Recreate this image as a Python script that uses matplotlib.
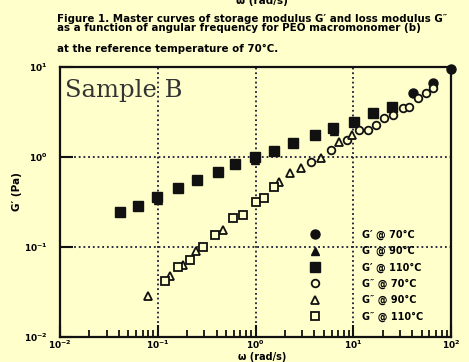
import matplotlib
matplotlib.use('Agg')
import matplotlib.pyplot as plt
import matplotlib.ticker as mticker

plt.rcParams['font.family'] = 'DejaVu Sans'
plt.rcParams['mathtext.default'] = 'bf'

# ── Data ──────────────────────────────────────────────────────────────────────
freq_gp_110 = [0.041, 0.063, 0.098, 0.161, 0.252, 0.41, 0.62, 0.98, 1.54, 2.44,
               4.03, 6.27, 10.2, 16.1, 25.2]
gp_110 = [0.247, 0.286, 0.362, 0.449, 0.555, 0.681, 0.83, 1.0, 1.16, 1.42,
          1.75, 2.08, 2.47, 3.06, 3.62]

freq_gp_90 = [0.1, 0.98, 6.3]
gp_90 = [0.33, 0.93, 1.95]

freq_gp_70 = [40.4, 64.9, 99.0]
gp_70 = [5.1, 6.6, 9.6]

freq_gpp_110 = [0.119, 0.162, 0.215, 0.293, 0.389, 0.594, 0.753, 1.0, 1.21, 1.53]
gpp_110 = [0.0414, 0.0607, 0.0717, 0.100, 0.136, 0.210, 0.227, 0.316, 0.350, 0.464]

freq_gpp_90 = [0.080, 0.134, 0.183, 0.248, 0.47, 1.72, 2.28, 2.9, 4.64, 7.1, 9.66]
gpp_90 = [0.0282, 0.0476, 0.063, 0.090, 0.155, 0.528, 0.664, 0.755, 0.975, 1.47, 1.76]

freq_gpp_70 = [3.66, 5.87, 8.58, 11.4, 14.1, 17.0, 20.6, 25.4, 32.2, 37.1, 45.9, 55.5, 65.3]
gpp_70 = [0.88, 1.2, 1.55, 2.0, 2.0, 2.27, 2.71, 2.93, 3.5, 3.59, 4.53, 5.14, 5.84]

labels = ["G′ @ 70°C", "G′ @ 90°C", "G′ @ 110°C",
          "G″ @ 70°C", "G″ @ 90°C", "G″ @ 110°C"]

BG = '#FFFFCC'
INK = '#111111'

# ── Figure ────────────────────────────────────────────────────────────────────
fig = plt.figure(figsize=(4.69, 3.62), dpi=100, facecolor=BG)
ax = fig.add_axes([60 / 469, 25 / 362, 391 / 469, 270 / 362], facecolor=BG)

h1, = ax.plot(freq_gp_70, gp_70, 'o', color=INK, ms=6.5, clip_on=False, zorder=4)
h2, = ax.plot(freq_gp_90, gp_90, '^', color=INK, ms=5.5, zorder=3)
h3, = ax.plot(freq_gp_110, gp_110, 's', color=INK, ms=7, zorder=4)
h4, = ax.plot(freq_gpp_70, gpp_70, 'o', mfc=BG, mec=INK, mew=1.3, ms=5.5, zorder=4)
h5, = ax.plot(freq_gpp_90, gpp_90, '^', mfc=BG, mec=INK, mew=1.3, ms=5.5, zorder=4)
h6, = ax.plot(freq_gpp_110, gpp_110, 's', mfc=BG, mec=INK, mew=1.3, ms=5.5, zorder=4)

ax.set_xscale('log')
ax.set_yscale('log')
ax.set_xlim(0.01, 100)
ax.set_ylim(0.01, 10)

ax.xaxis.set_major_locator(mticker.LogLocator(base=10, numticks=10))
ax.xaxis.set_minor_locator(mticker.LogLocator(base=10, subs=range(2, 10), numticks=10))
ax.yaxis.set_major_locator(mticker.LogLocator(base=10, numticks=10))
ax.yaxis.set_minor_locator(mticker.NullLocator())

ax.grid(True, which='major', linestyle=(0, (1, 1.6)), linewidth=1.3, color='#1a1a3a')
ax.tick_params(which='major', direction='in', length=9, width=1.5, color=INK,
               labelsize=6.5)
ax.tick_params(which='minor', direction='in', length=5, width=1.3, color=INK)
ax.tick_params(axis='y', pad=9)
ax.tick_params(axis='x', pad=1.5)
for lab in ax.get_xticklabels() + ax.get_yticklabels():
    lab.set_fontweight('bold')
for sp in ax.spines.values():
    sp.set_linewidth(1.6)
    sp.set_color(INK)

ax.text(0.014, 0.955, 'Sample B', transform=ax.transAxes, family='DejaVu Serif',
        fontsize=17.5, color='#333333', ha='left', va='top', zorder=2)

ax.legend([h1, h2, h3, h4, h5, h6], labels, loc='upper left',
          bbox_to_anchor=(0.627, 0.398), frameon=False, numpoints=1,
          prop={'size': 7, 'weight': 'bold'}, handlelength=2.0,
          handletextpad=3.8, labelspacing=0.62, borderpad=0, borderaxespad=0)

# ── Labels & caption ──────────────────────────────────────────────────────────
fig.text(17 / 469, 1 - 192 / 362, "G′ (Pa)", fontsize=7.5, fontweight='bold',
         rotation=90, ha='center', va='center')
fig.text(262 / 469, 1 - 357.5 / 362, "ω (rad/s)", fontsize=7, fontweight='bold',
         ha='center', va='center')
fig.text(262 / 469, 1 - 1 / 362, "ω (rad/s)", fontsize=7.5, fontweight='bold',
         ha='center', va='center')

caption = ["Figure 1. Master curves of storage modulus G′ and loss modulus G″",
           "as a function of angular frequency for PEO macromonomer (b)",
           "at the reference temperature of 70°C."]
for line, ypx in zip(caption, [19, 28, 49]):
    fig.text(57 / 469, 1 - ypx / 362, line, fontsize=7.4, fontweight='bold',
             ha='left', va='center')

fig.savefig('out.png', dpi=100, facecolor=BG)
